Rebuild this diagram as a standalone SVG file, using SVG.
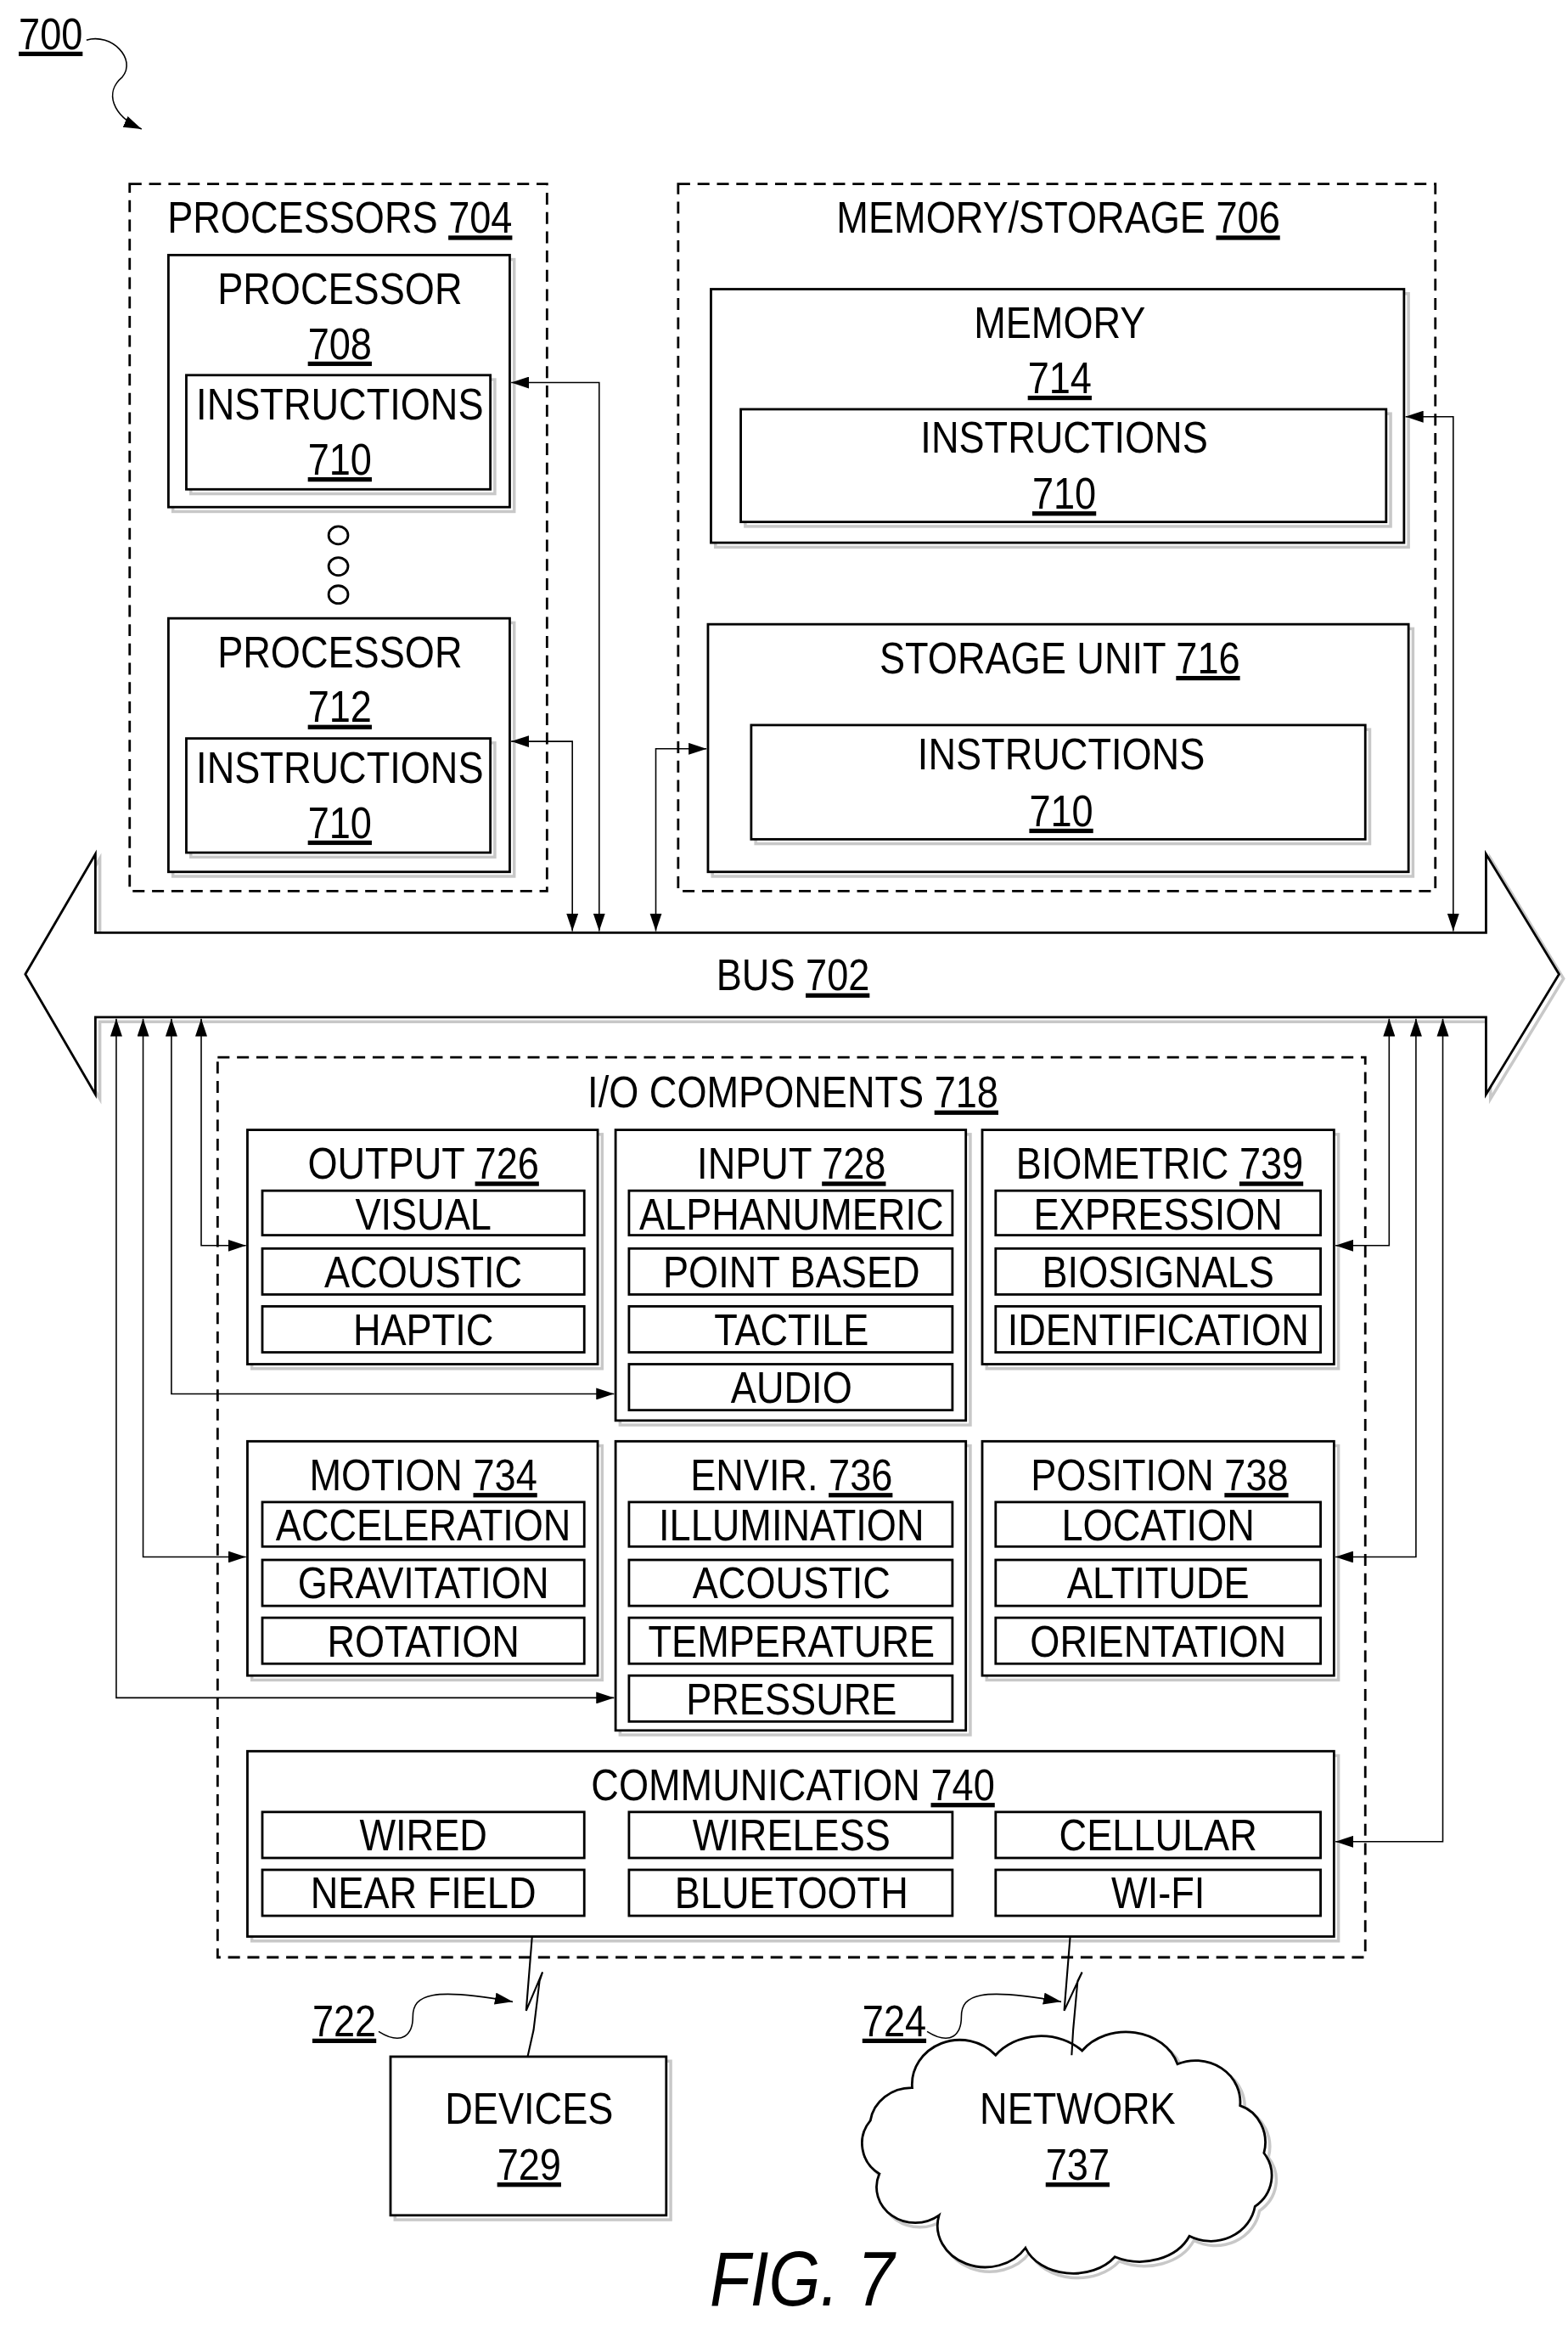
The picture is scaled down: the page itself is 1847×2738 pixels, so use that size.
<svg xmlns="http://www.w3.org/2000/svg" width="1847" height="2738" viewBox="0 0 1847 2738">
<style>
text{font-family:"Liberation Sans",Arial,sans-serif;font-size:30px;fill:#000;text-anchor:middle}
.u{text-decoration:underline}
.box{fill:#fff;stroke:#000;stroke-width:1.6}
.sh{fill:none;stroke:#c8c8c8;stroke-width:2}
.dash{fill:none;stroke:#000;stroke-width:1.6;stroke-dasharray:8,5}
.con{fill:none;stroke:#000;stroke-width:0.9}
.ln{fill:none;stroke:#000;stroke-width:1.2}
</style>
<defs>
<marker id="ah" markerUnits="userSpaceOnUse" markerWidth="12" markerHeight="8" refX="12" refY="4" orient="auto-start-reverse" viewBox="0 0 12 8"><path d="M0,0 L12,4 L0,8 z" fill="#000"/></marker>
</defs>
<rect width="1847" height="2738" fill="#fff"/>
<g transform="scale(1.7557,1.7462)">
<g id="label700">
<text transform="translate(34,33) scale(.857,1)" class="u">700</text>
<path class="con" d="M58,27 C75,22 92,40 82,52 C70,62 75,78 95,87" marker-end="url(#ah)"/>
</g>
<g id="processors704">
<rect class="dash" x="87" y="124" width="280" height="477"/>
<text transform="translate(228,157) scale(.857,1)">PROCESSORS <tspan class="u">704</tspan></text>
</g>
<g id="processor708">
<rect class="sh" x="116" y="175" width="229" height="170"/>
<rect class="box" x="113" y="172" width="229" height="170"/>
<text transform="translate(228,205) scale(.857,1)">PROCESSOR</text>
<text transform="translate(228,242) scale(.857,1)" class="u">708</text>
<rect class="sh" x="128" y="256" width="204" height="77"/>
<rect class="box" x="125" y="253" width="204" height="77"/>
<text transform="translate(228,283) scale(.857,1)">INSTRUCTIONS</text>
<text transform="translate(228,320) scale(.857,1)" class="u">710</text>
</g>
<g id="dots">
<ellipse cx="227" cy="361" rx="6.5" ry="6" class="box" stroke-width="0.9"/>
<ellipse cx="227" cy="382" rx="6.5" ry="6" class="box" stroke-width="0.9"/>
<ellipse cx="227" cy="401" rx="6.5" ry="6" class="box" stroke-width="0.9"/>
</g>
<g id="processor712">
<rect class="sh" x="116" y="420" width="229" height="171"/>
<rect class="box" x="113" y="417" width="229" height="171"/>
<text transform="translate(228,450) scale(.857,1)">PROCESSOR</text>
<text transform="translate(228,487) scale(.857,1)" class="u">712</text>
<rect class="sh" x="128" y="501" width="204" height="77"/>
<rect class="box" x="125" y="498" width="204" height="77"/>
<text transform="translate(228,528) scale(.857,1)">INSTRUCTIONS</text>
<text transform="translate(228,565) scale(.857,1)" class="u">710</text>
</g>
<g id="memstorage706">
<rect class="dash" x="455" y="124" width="508" height="477"/>
<text transform="translate(710,157) scale(.857,1)">MEMORY/STORAGE <tspan class="u">706</tspan></text>
</g>
<g id="memory714">
<rect class="sh" x="480" y="198" width="465" height="171"/>
<rect class="box" x="477" y="195" width="465" height="171"/>
<text transform="translate(711,228) scale(.857,1)">MEMORY</text>
<text transform="translate(711,265) scale(.857,1)" class="u">714</text>
<rect class="sh" x="500" y="279" width="433" height="76"/>
<rect class="box" x="497" y="276" width="433" height="76"/>
<text transform="translate(714,305) scale(.857,1)">INSTRUCTIONS</text>
<text transform="translate(714,343) scale(.857,1)" class="u">710</text>
</g>
<g id="storage716">
<rect class="sh" x="478" y="424" width="470" height="167"/>
<rect class="box" x="475" y="421" width="470" height="167"/>
<text transform="translate(711,454) scale(.857,1)">STORAGE UNIT <tspan class="u">716</tspan></text>
<rect class="sh" x="507" y="492" width="412" height="77"/>
<rect class="box" x="504" y="489" width="412" height="77"/>
<text transform="translate(712,519) scale(.857,1)">INSTRUCTIONS</text>
<text transform="translate(712,557) scale(.857,1)" class="u">710</text>
</g>
<g id="bus702">
<path class="sh" d="M20,660 L67,579 L67,632 L1000,632 L1000,579 L1049,660 L1000,741 L1000,689 L67,689 L67,741 Z"/>
<path class="box" d="M17,657 L64,576 L64,629 L997,629 L997,576 L1046,657 L997,738 L997,686 L64,686 L64,738 Z"/>
<text transform="translate(532,668) scale(.857,1)">BUS <tspan class="u">702</tspan></text>
</g>
<g id="io718">
<rect class="dash" x="146" y="713" width="770" height="607"/>
<text transform="translate(532,747) scale(.857,1)">I/O COMPONENTS <tspan class="u">718</tspan></text>
</g>
<g id="output726">
<rect class="sh" x="169" y="765" width="235" height="158"/>
<rect class="box" x="166" y="762" width="235" height="158"/>
<text transform="translate(284,795) scale(.857,1)">OUTPUT <tspan class="u">726</tspan></text>
<rect class="box" x="176" y="803" width="216" height="30"/><text transform="translate(284,829) scale(.857,1)">VISUAL</text>
<rect class="box" x="176" y="842" width="216" height="31"/><text transform="translate(284,868) scale(.857,1)">ACOUSTIC</text>
<rect class="box" x="176" y="881" width="216" height="31"/><text transform="translate(284,907) scale(.857,1)">HAPTIC</text>
</g>
<g id="input728">
<rect class="sh" x="416" y="765" width="235" height="196"/>
<rect class="box" x="413" y="762" width="235" height="196"/>
<text transform="translate(531,795) scale(.857,1)">INPUT <tspan class="u">728</tspan></text>
<rect class="box" x="422" y="803" width="217" height="30"/><text transform="translate(531,829) scale(.857,1)">ALPHANUMERIC</text>
<rect class="box" x="422" y="842" width="217" height="31"/><text transform="translate(531,868) scale(.857,1)">POINT BASED</text>
<rect class="box" x="422" y="881" width="217" height="31"/><text transform="translate(531,907) scale(.857,1)">TACTILE</text>
<rect class="box" x="422" y="920" width="217" height="31"/><text transform="translate(531,946) scale(.857,1)">AUDIO</text>
</g>
<g id="biometric739">
<rect class="sh" x="662" y="765" width="236" height="158"/>
<rect class="box" x="659" y="762" width="236" height="158"/>
<text transform="translate(778,795) scale(.857,1)">BIOMETRIC <tspan class="u">739</tspan></text>
<rect class="box" x="668" y="803" width="218" height="30"/><text transform="translate(777,829) scale(.857,1)">EXPRESSION</text>
<rect class="box" x="668" y="842" width="218" height="31"/><text transform="translate(777,868) scale(.857,1)">BIOSIGNALS</text>
<rect class="box" x="668" y="881" width="218" height="31"/><text transform="translate(777,907) scale(.857,1)">IDENTIFICATION</text>
</g>
<g id="motion734">
<rect class="sh" x="169" y="975" width="235" height="158"/>
<rect class="box" x="166" y="972" width="235" height="158"/>
<text transform="translate(284,1005) scale(.857,1)">MOTION <tspan class="u">734</tspan></text>
<rect class="box" x="176" y="1013" width="216" height="30"/><text transform="translate(284,1039) scale(.857,1)">ACCELERATION</text>
<rect class="box" x="176" y="1052" width="216" height="31"/><text transform="translate(284,1078) scale(.857,1)">GRAVITATION</text>
<rect class="box" x="176" y="1091" width="216" height="31"/><text transform="translate(284,1117) scale(.857,1)">ROTATION</text>
</g>
<g id="envir736">
<rect class="sh" x="416" y="975" width="235" height="195"/>
<rect class="box" x="413" y="972" width="235" height="195"/>
<text transform="translate(531,1005) scale(.857,1)">ENVIR. <tspan class="u">736</tspan></text>
<rect class="box" x="422" y="1013" width="217" height="30"/><text transform="translate(531,1039) scale(.857,1)">ILLUMINATION</text>
<rect class="box" x="422" y="1052" width="217" height="31"/><text transform="translate(531,1078) scale(.857,1)">ACOUSTIC</text>
<rect class="box" x="422" y="1091" width="217" height="31"/><text transform="translate(531,1117) scale(.857,1)">TEMPERATURE</text>
<rect class="box" x="422" y="1130" width="217" height="31"/><text transform="translate(531,1156) scale(.857,1)">PRESSURE</text>
</g>
<g id="position738">
<rect class="sh" x="662" y="975" width="236" height="158"/>
<rect class="box" x="659" y="972" width="236" height="158"/>
<text transform="translate(778,1005) scale(.857,1)">POSITION <tspan class="u">738</tspan></text>
<rect class="box" x="668" y="1013" width="218" height="30"/><text transform="translate(777,1039) scale(.857,1)">LOCATION</text>
<rect class="box" x="668" y="1052" width="218" height="31"/><text transform="translate(777,1078) scale(.857,1)">ALTITUDE</text>
<rect class="box" x="668" y="1091" width="218" height="31"/><text transform="translate(777,1117) scale(.857,1)">ORIENTATION</text>
</g>
<g id="communication740">
<rect class="sh" x="169" y="1184" width="729" height="125"/>
<rect class="box" x="166" y="1181" width="729" height="125"/>
<text transform="translate(532,1214) scale(.857,1)">COMMUNICATION <tspan class="u">740</tspan></text>
<rect class="box" x="176" y="1222" width="216" height="31"/><text transform="translate(284,1248) scale(.857,1)">WIRED</text>
<rect class="box" x="422" y="1222" width="217" height="31"/><text transform="translate(531,1248) scale(.857,1)">WIRELESS</text>
<rect class="box" x="668" y="1222" width="218" height="31"/><text transform="translate(777,1248) scale(.857,1)">CELLULAR</text>
<rect class="box" x="176" y="1261" width="216" height="31"/><text transform="translate(284,1287) scale(.857,1)">NEAR FIELD</text>
<rect class="box" x="422" y="1261" width="217" height="31"/><text transform="translate(531,1287) scale(.857,1)">BLUETOOTH</text>
<rect class="box" x="668" y="1261" width="218" height="31"/><text transform="translate(777,1287) scale(.857,1)">WI-FI</text>
</g>
<g id="devices729">
<rect class="sh" x="265" y="1390" width="185" height="107"/>
<rect class="box" x="262" y="1387" width="185" height="107"/>
<text transform="translate(355,1432) scale(.857,1)">DEVICES</text>
<text transform="translate(355,1470) scale(.857,1)" class="u">729</text>
</g>
<g id="network737">
<path class="sh" transform="translate(3,3)" d="M612,1408 A32,30 0 0 1 668,1386 A38,32 0 0 1 726,1383 A36,30 0 0 1 790,1392 A30,28 0 0 1 832,1420 A24,26 0 0 1 848,1452 A28,26 0 0 1 842,1488 A30,28 0 0 1 798,1508 A36,28 0 0 1 748,1522 A34,26 0 0 1 688,1516 A32,28 0 0 1 630,1494 A26,24 0 0 1 590,1466 A24,24 0 0 1 584,1430 A28,26 0 0 1 612,1408 Z"/>
<path class="box" d="M612,1408 A32,30 0 0 1 668,1386 A38,32 0 0 1 726,1383 A36,30 0 0 1 790,1392 A30,28 0 0 1 832,1420 A24,26 0 0 1 848,1452 A28,26 0 0 1 842,1488 A30,28 0 0 1 798,1508 A36,28 0 0 1 748,1522 A34,26 0 0 1 688,1516 A32,28 0 0 1 630,1494 A26,24 0 0 1 590,1466 A24,24 0 0 1 584,1430 A28,26 0 0 1 612,1408 Z"/>
<text transform="translate(723,1432) scale(.857,1)">NETWORK</text>
<text transform="translate(723,1470) scale(.857,1)" class="u">737</text>
</g>
<g id="connectors">
<path class="con" d="M402,628 V258 H343" marker-start="url(#ah)" marker-end="url(#ah)"/>
<path class="con" d="M384,628 V500 H343" marker-start="url(#ah)" marker-end="url(#ah)"/>
<path class="con" d="M440,628 V505 H474" marker-start="url(#ah)" marker-end="url(#ah)"/>
<path class="con" d="M975,628 V281 H943" marker-start="url(#ah)" marker-end="url(#ah)"/>
<path class="con" d="M135,687 V840 H165" marker-start="url(#ah)" marker-end="url(#ah)"/>
<path class="con" d="M115,687 V940 H412" marker-start="url(#ah)" marker-end="url(#ah)"/>
<path class="con" d="M96,687 V1050 H165" marker-start="url(#ah)" marker-end="url(#ah)"/>
<path class="con" d="M78,687 V1145 H412" marker-start="url(#ah)" marker-end="url(#ah)"/>
<path class="con" d="M932,687 V840 H896" marker-start="url(#ah)" marker-end="url(#ah)"/>
<path class="con" d="M950,687 V1050 H896" marker-start="url(#ah)" marker-end="url(#ah)"/>
<path class="con" d="M968,687 V1242 H896" marker-start="url(#ah)" marker-end="url(#ah)"/>
<path class="ln" d="M357,1306 L353,1356 L364,1330 L362,1336 L358,1369 L354,1387"/>
<path class="ln" d="M718,1306 L714,1356 L726,1330 L723,1336 L720,1369 L719,1386"/>
<path class="con" d="M254,1370 C270,1380 277,1372 277,1360 C277,1345 290,1340 344,1350" marker-end="url(#ah)"/>
<path class="con" d="M622,1370 C638,1380 645,1372 645,1360 C645,1345 658,1340 712,1350" marker-end="url(#ah)"/>
</g>
<g id="labels">
<text transform="translate(231,1373) scale(.857,1)" class="u">722</text>
<text transform="translate(600,1373) scale(.857,1)" class="u">724</text>
<text transform="translate(538,1555) scale(.857,1)" style="font-size:52px;font-style:italic">FIG. 7</text>
</g>
</g>
</svg>
